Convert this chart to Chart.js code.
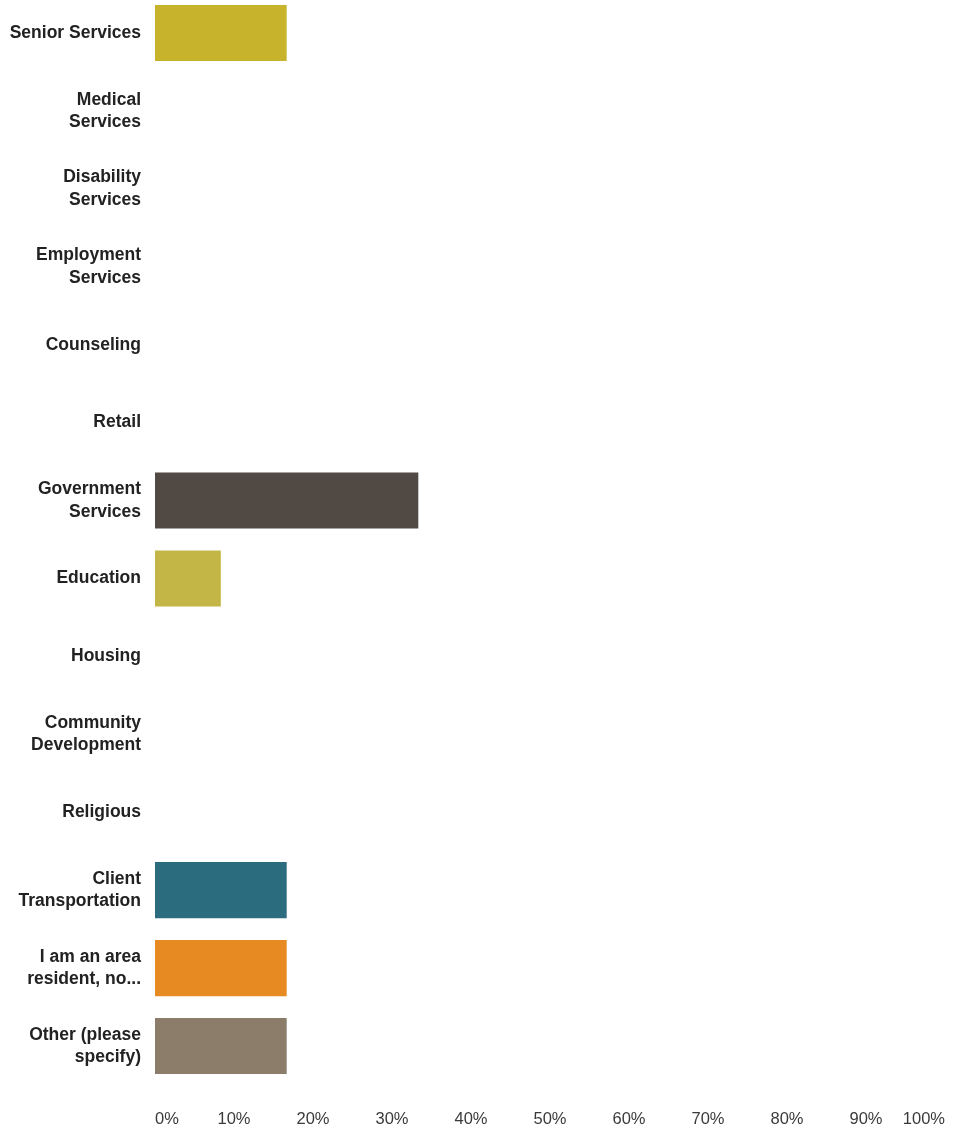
<!DOCTYPE html>
<html>
<head>
<meta charset="utf-8">
<script src="https://cdn.jsdelivr.net/npm/chart.js@4"></script>
<style>
  html, body { margin: 0; padding: 0; background: #fff; overflow: hidden; }
  #wrap { position: relative; width: 955px; height: 1137px; margin-top: -6px; }
</style>
</head>
<body>
<div id="wrap"><canvas id="chart"></canvas></div>
<script>
// Answer choices (multi-line labels as they wrap in the picture)
const categories = [
  "Senior Services",
  ["Medical", "Services"],
  ["Disability", "Services"],
  ["Employment", "Services"],
  "Counseling",
  "Retail",
  ["Government", "Services"],
  "Education",
  "Housing",
  ["Community", "Development"],
  "Religious",
  ["Client", "Transportation"],
  ["I am an area", "resident, no..."],
  ["Other (please", "specify)"]
];

// Percent of respondents
const percents = [16.67, 0, 0, 0, 0, 0, 33.33, 8.33, 0, 0, 0, 16.67, 16.67, 16.67];

const barColors = [
  "#c8b32c", "#c8b32c", "#c8b32c", "#c8b32c", "#c8b32c", "#c8b32c",
  "#514944", "#c4b646", "#c8b32c", "#c8b32c", "#c8b32c",
  "#2c6c7f", "#e78a22", "#8c7d6b"
];

const xTicks = [0, 10, 20, 30, 40, 50, 60, 70, 80, 90, 100];

document.addEventListener("DOMContentLoaded", function () {
  const ctx = document.getElementById("chart").getContext("2d");

  new Chart(ctx, {
    type: "bar",
    data: {
      labels: categories,
      datasets: [
        {
          data: percents,
          backgroundColor: barColors,
          borderWidth: 0,
          categoryPercentage: 0.72,
          barPercentage: 1.0,
        },
      ],
    },
    options: {
      indexAxis: "y",
      responsive: true,
      maintainAspectRatio: false,
      animation: false,
      layout: { padding: { top: 0, right: 10, bottom: 0, left: 0 } },
      plugins: {
        legend: { display: false },
        tooltip: { enabled: false },
      },
      scales: {
        x: {
          min: 0,
          max: 100,
          grid: { display: false, drawTicks: false },
          border: { display: false },
          afterBuildTicks: function (scale) {
            scale.ticks = xTicks.map((v) => ({ value: v }));
          },
          afterFit: function (scale) {
            scale.height = 46;
            scale.paddingLeft = 0;
            scale.paddingRight = 0;
          },
          ticks: {
            align: "inner",
            padding: 25,
            color: "#3a3a3a",
            font: { family: "Liberation Sans, Arial, sans-serif", size: 16.5 },
            callback: (v) => v + "%",
          },
        },
        y: {
          grid: { display: false, drawTicks: false },
          border: { display: false },
          afterFit: function (scale) {
            scale.width = 155;
            scale.paddingTop = 0;
            scale.paddingBottom = 0;
          },
          ticks: {
            padding: 14,
            color: "#222",
            font: {
              family: "Liberation Sans, Arial, sans-serif",
              size: 17.5,
              weight: "bold",
              lineHeight: 1.28,
            },
          },
        },
      },
    },
  });
});
</script>
</body>
</html>
